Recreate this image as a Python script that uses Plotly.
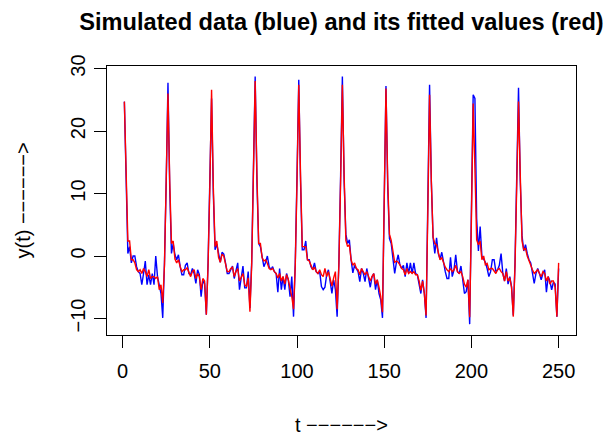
import plotly.graph_objects as go

t = list(range(1, 251))

simulated = [
    24.7, 11, 0.4, 1.5, -1.1, 0.0, 0.0, -1.7, -2.5, -2.8, -4.6, -2.8, -0.8, -4.6, -3.0, -4.6, -2.8, -4.6, 0.0, -3.3, -4.9, -6.0, -9.9, -1.0, 12,
    27.7, 11, 0.4, 2.0, 0.2, -0.6, 0.2, -1.7, -3.0, -3.0, -1.5, -1.1, -2.8, -3.0, -2.0, -2.8, -4.4, -2.2, -3.0, -6.5, -4.0, -4.4, -9.4, -1.0, 12,
    25.2, 10, 1.0, 1.9, 0.2, -1.0, 0.6, 0.3, -1.1, -2.8, -2.8, -2.2, -1.6, -3.6, -2.5, -1.1, -5.4, -3.3, -1.6, -5.1, -5.1, -2.5, -8.3, -1.0, 13,
    28.7, 12, 2.0, 1.5, -0.5, -1.7, -1.0, 0.0, -1.7, -2.2, -1.7, -2.5, -2.8, -5.8, -2.0, -5.4, -3.3, -5.4, -2.8, -3.8, -6.5, -3.3, -9.7, -1.0, 13,
    28.2, 12, 1.0, 1.0, 2.4, -0.6, -0.6, -1.7, -2.2, -1.1, -2.5, -2.8, -2.5, -4.9, -5.4, -5.0, -3.0, -2.2, -3.8, -6.0, -3.8, -5.4, -9.7, -1.0, 13,
    28.7, 12, 3.5, 2.0, 2.6, -0.6, -2.7, -1.5, -2.0, -2.5, -4.1, -2.0, -2.8, -4.1, -2.0, -3.3, -5.0, -3.3, -2.8, -5.4, -3.8, -6.0, -7.0, -9.9, 8,
    27.2, 11, 2.8, 2.0, -0.5, -2.8, -1.0, 0.2, -1.4, -2.0, -1.5, -3.3, -1.1, -2.8, -1.1, -2.8, -1.1, -2.8, -3.0, -4.4, -6.0, -3.8, -6.0, -9.9, 8,
    27.4, 12, 3, 0.4, 2.9, 0.4, -0.5, 0.6, -1.1, -2.5, -3.6, -3.6, -0.2, -3.3, -2.2, 0.2, -2.5, -2.8, -1.6, -3.8, -6.0, -5.7, -3.8, -10.9, 7,
    25.8, 25.2, 6, 0.8, 4.7, 0.0, -0.6, -1.0, -2.0, -3.3, -2.5, -0.6, -0.6, -2.5, -2.2, -1.5, 0.4, -2.8, -4.0, -2.0, -4.5, -3.3, -4.9, -9.5, -1.0, 12,
    26.9, 12, 3.3, 0.8, 1.8, 0.4, -0.6, -1.1, -2.8, -4.4, -2.8, -2.0, -2.8, -3.8, -2.8, -2.2, -5.8, -3.3, -4.0, -5.4, -4.2, -4.5, -9.7, -2.0,
]

fitted = [
    24.7, 12, 2.4, 2.4, -0.6, -0.6, -1.1, -2.2, -2.5, -2.2, -2.8, -2.0, -2.5, -3.3, -2.2, -3.6, -3.3, -3.3, -3.6, -3.3, -5.4, -4.6, -7.5, -1.5, 11,
    26.0, 12, 2.0, 2.4, -0.5, -1.1, -0.6, -1.7, -2.5, -2.2, -2.2, -1.9, -2.5, -3.3, -2.5, -2.2, -3.6, -2.8, -3.3, -5.4, -3.6, -4.0, -9.4, -1.5, 11,
    26.6, 11, 1.5, 2.4, -0.2, -1.0, 0.3, 0.0, -1.4, -2.5, -2.5, -2.0, -1.8, -3.3, -2.5, -2.0, -4.0, -3.3, -2.8, -4.6, -4.9, -3.5, -8.9, -1.5, 12,
    28.0, 13, 2.0, 2.0, -0.3, -0.8, -0.6, -1.2, -2.0, -2.2, -2.0, -2.5, -2.8, -3.5, -2.8, -4.0, -3.3, -4.5, -3.0, -3.8, -5.0, -6.5, -8.5, -1.5, 12,
    27.4, 13, 1.5, 1.5, 1.5, -0.6, -0.8, -1.5, -2.2, -1.8, -2.5, -2.8, -2.2, -3.0, -3.3, -2.0, -3.3, -2.5, -3.5, -4.8, -3.5, -2.5, -8.5, -1.5, 12,
    27.4, 13, 2.5, 1.5, 1.8, -0.6, -1.5, -1.1, -2.0, -2.2, -3.0, -2.0, -2.5, -3.0, -2.5, -3.3, -4.0, -3.3, -2.8, -4.5, -3.8, -5.0, -6.5, -9.0, 7,
    26.8, 12, 3.5, 2.5, 1.0, -1.0, -0.8, -1.0, -1.4, -2.0, -2.2, -3.0, -2.0, -2.8, -2.5, -2.8, -2.5, -3.0, -3.0, -4.0, -5.5, -4.0, -6.0, -9.5, 7,
    25.8, 12, 3, 2.0, 1.8, 0.6, -0.6, -0.3, -1.1, -1.8, -2.2, -2.5, -2.0, -2.5, -2.2, -1.5, -2.5, -2.8, -2.5, -3.3, -4.5, -5.0, -3.8, -9.8, 6,
    24.4, 14, 2.6, 1.8, 2.4, -0.6, 0.0, -1.4, -1.2, -2.2, -2.0, -2.0, -2.5, -2.8, -2.2, -2.0, -2.5, -2.8, -4.0, -2.5, -4.0, -3.5, -5.0, -9.7, -1.5, 11,
    24.7, 13, 2.4, 1.0, 1.2, 0.0, -0.8, -1.5, -2.2, -2.8, -2.5, -2.2, -2.8, -3.3, -2.5, -2.8, -4.0, -3.3, -4.5, -4.0, -4.0, -5.0, -9.7, -1.1,
]

x_ticks = [0, 50, 100, 150, 200, 250]
y_ticks = [-10, 0, 10, 20, 30]
y_tick_labels = ["\u221210", "0", "10", "20", "30"]

title_text = "Simulated data (blue) and its fitted values (red)"
x_label = "t \u2212\u2212\u2212\u2212\u2212\u2212>"
y_label = "y(t) \u2212\u2212\u2212\u2212\u2212\u2212>"

FONT = "Liberation Sans, Arial, Helvetica, sans-serif"

# The page body has an 8px default margin, so the figure is drawn 8px in
# from the top-left corner of the 611x436 window.
W, H = 603, 428

fig = go.Figure()
fig.add_trace(go.Scatter(x=t, y=simulated, mode="lines",
                         line=dict(color="#0000FF", width=1.4), showlegend=False))
fig.add_trace(go.Scatter(x=t, y=fitted, mode="lines",
                         line=dict(color="#FF0000", width=1.4), showlegend=False))

axis_common = dict(showgrid=False, zeroline=False, showline=True, mirror=True,
                   automargin=False,
                   linecolor="black", linewidth=1.3, ticks="outside", ticklen=12,
                   tickwidth=1.3, tickcolor="black",
                   tickfont=dict(family=FONT, size=20, color="black"))

fig.update_xaxes(range=[-8.96, 259.96], tickvals=x_ticks,
                 ticktext=[str(v) for v in x_ticks], ticklabelstandoff=6,
                 **axis_common)
fig.update_yaxes(range=[-12.64, 30.4], tickvals=y_ticks, ticktext=y_tick_labels,
                 tickangle=-90, ticklabelstandoff=1, **axis_common)

fig.update_layout(
    width=W, height=H, autosize=False,
    margin=dict(l=99, r=35, t=58, b=101, autoexpand=False),
    paper_bgcolor="white", plot_bgcolor="white",
    title=dict(text=title_text, x=0.5, xref="paper", xanchor="center",
               y=1 - 14 / H, yref="container", yanchor="middle",
               automargin=False,
               font=dict(family=FONT, size=23.6, color="black", weight="bold")),
    annotations=[
        dict(text=x_label, xref="paper", yref="paper", x=0.5, y=0,
             xanchor="center", yanchor="middle", yshift=-90, showarrow=False,
             font=dict(family=FONT, size=20, color="black")),
        dict(text=y_label, xref="paper", yref="paper", x=0, y=0.5,
             xanchor="center", yanchor="middle", xshift=-85, textangle=-90,
             showarrow=False, font=dict(family=FONT, size=20, color="black")),
    ],
)

fig.write_html("out.html")
